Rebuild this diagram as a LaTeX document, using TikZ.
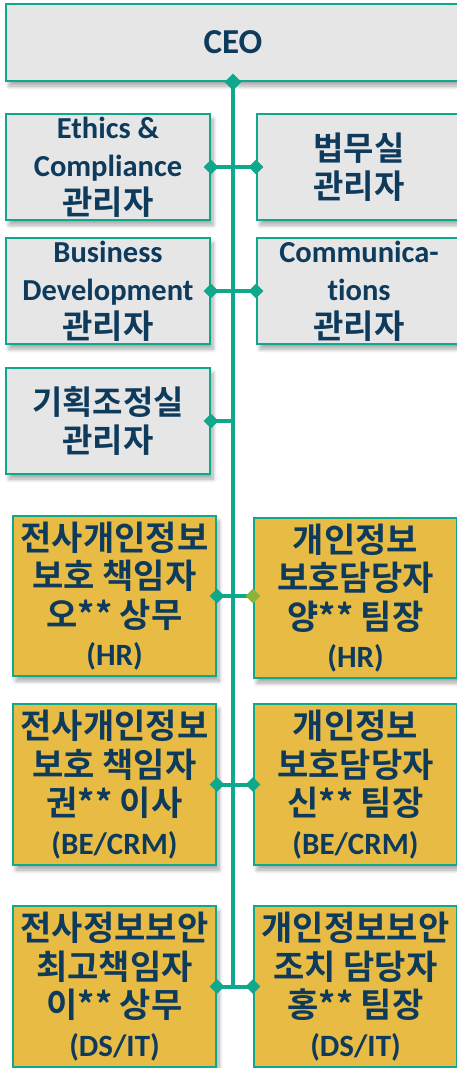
\documentclass[tikz,border=0pt]{standalone}
\usepackage{fontspec}
\setmainfont{Carlito}
\newfontfamily\latb{Carlito Bold}[Ligatures=NoCommon]
\newfontfamily\krbfam{Noto Sans CJK KR Bold}
\usetikzlibrary{shapes.geometric,shadows.blur}
\definecolor{tealc}{HTML}{10A88C}
\definecolor{navyc}{HTML}{0E3A5C}
\definecolor{grayc}{HTML}{E6E6E6}
\definecolor{yellc}{HTML}{E8BC44}
\definecolor{olivec}{HTML}{8DB43A}
\tikzset{
  basebox/.style={draw=tealc, line width=2pt, inner sep=0pt, align=center, text=navyc, anchor=north west,
    blur shadow={shadow xshift=3pt, shadow yshift=-5pt, shadow blur steps=8, shadow blur radius=4pt, shadow opacity=35}},
  gbox/.style={basebox, fill=grayc, minimum width=204pt, minimum height=106pt,
    font=\latb\fontsize{30.5}{38}\selectfont},
  ybox/.style={basebox, fill=yellc, minimum width=203pt, minimum height=160pt,
    font=\latb\fontsize{31}{38.5}\selectfont},
  conn/.style={draw=tealc, line width=4.5pt},
  hconn/.style={draw=tealc, line width=4pt},
  dia/.style={diamond, fill=tealc, inner sep=0pt, minimum width=15pt, minimum height=15pt},
}
\newcommand{\krm}[1]{{\krbfam\fontsize{33}{38}\selectfont #1}}
\newcommand{\krb}[1]{{\krbfam\fontsize{34}{38.5}\selectfont #1}}
\begin{document}
\begin{tikzpicture}[x=1pt,y=1pt]
\useasboundingbox (0,0) rectangle (457,-1068);
% boxes
\node[gbox, minimum width=454pt, minimum height=77pt, font=\latb\fontsize{35}{40}\selectfont] (ceo) at (5,-3) {CEO};
\node[gbox] (eth) at (5,-113) {Ethics \&\\Compliance\\\krm{관리자}};
\node[gbox] (legal) at (256,-113) {\krm{법무실}\\\krm{관리자}};
\node[gbox] (bd) at (5,-237) {Business\\Development\\\krm{관리자}};
\node[gbox] (comm) at (256,-237) {Communica-\\tions\\\krm{관리자}};
\node[gbox] (plan) at (5,-367) {\krm{기획조정실}\\\krm{관리자}};
\node[ybox] (hrL) at (12,-515) {\krb{전사개인정보}\\\krb{보호 책임자}\\\krb{오** 상무}\\(HR)};
\node[ybox] (hrR) at (253,-517) {\krb{개인정보}\\\krb{보호담당자}\\\krb{양** 팀장}\\(HR)};
\node[ybox, minimum height=161pt] (beL) at (12,-703) {\krb{전사개인정보}\\\krb{보호 책임자}\\\krb{권** 이사}\\(BE/CRM)};
\node[ybox, minimum height=161pt] (beR) at (253,-703) {\krb{개인정보}\\\krb{보호담당자}\\\krb{신** 팀장}\\(BE/CRM)};
\node[ybox, minimum height=161pt] (dsL) at (12,-905) {\krb{전사정보보안}\\\krb{최고책임자}\\\krb{이** 상무}\\(DS/IT)};
\node[ybox, minimum height=161pt] (dsR) at (253,-905) {\krb{개인정보보안}\\\krb{조치 담당자}\\\krb{홍** 팀장}\\(DS/IT)};
% connectors
\draw[conn] (ceo.south) -- (ceo.south |- dsL.east);
\draw[hconn] (eth.east) -- (legal.west);
\draw[hconn] (bd.east) -- (comm.west);
\draw[hconn] (plan.east) -- (plan.east -| ceo.south);
\draw[hconn] (hrL.east) -- (hrL.east -| hrR.west);
\draw[hconn] (beL.east) -- (beR.west);
\draw[hconn] (dsL.east) -- (dsR.west);
% diamonds
\node[dia, minimum width=17pt, minimum height=17pt] at (ceo.south) {};
\node[dia] at (eth.east) {};
\node[dia] at (legal.west) {};
\node[dia] at (bd.east) {};
\node[dia] at (comm.west) {};
\node[dia] at (plan.east) {};
\node[dia] at (hrL.east) {};
\node[dia, fill=olivec] at (hrL.east -| hrR.west) {};
\node[dia] at (beL.east) {};
\node[dia] at (beR.west) {};
\node[dia] at (dsL.east) {};
\node[dia] at (dsR.west) {};
\end{tikzpicture}
\end{document}
